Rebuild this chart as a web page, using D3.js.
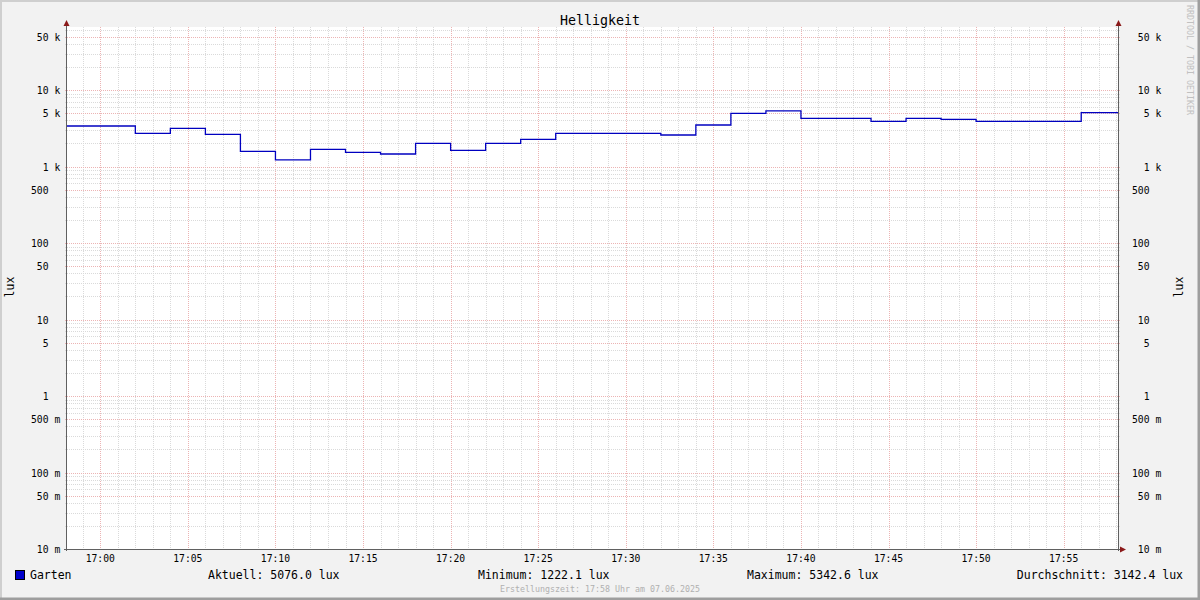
<!DOCTYPE html>
<html><head><meta charset="utf-8">
<script src="https://cdn.jsdelivr.net/npm/d3@7"></script>
<style>
html,body{margin:0;padding:0;background:#fff;}
svg{display:block;}
text{font-family:"DejaVu Sans Mono",monospace;}
</style></head>
<body><svg id="c" width="1200" height="600"></svg>
<script>
// ---- data ----
const times = ["16:58","17:00","17:02","17:04","17:06","17:08","17:10","17:12","17:14","17:16",
  "17:18","17:20","17:22","17:24","17:26","17:28","17:30","17:32","17:34","17:36",
  "17:38","17:40","17:42","17:44","17:46","17:48","17:50","17:52","17:54","17:56"];
const luxValues = [3383,3383,2716,3157,2636,1580,1222.1,1679,1534,1457,
  2010,1629,2010,2268,2716,2716,2716,2581,3487,4956,
  5342.6,4266,4266,3892,4266,4139,3892,3892,3892,5076];
const yTickValues = [0.01,0.05,0.1,0.5,1,5,10,50,100,500,1000,5000,10000,50000];
const yTickNums = ["10","50","100","500","1","5","10","50","100","500","1","5","10","50"];
const yTickUnits = ["m","m","m","m","","","","","","","k","k","k","k"];
const xTickLabels = ["17:00","17:05","17:10","17:15","17:20","17:25","17:30","17:35","17:40","17:45","17:50","17:55"];
const title = "Helligkeit";
const seriesName = "Garten";
const legendStats = [["Aktuell: 5076.0 lux",208,"start"],["Minimum: 1222.1 lux",478,"start"],
  ["Maximum: 5342.6 lux",747,"start"],["Durchschnitt: 3142.4 lux",1183,"end"]];

const svg = d3.select("#c");
const L=67,R=1118,T=27,B=549;
const day = (hm,s=0)=>{const [h,m]=hm.split(":").map(Number);return new Date(2025,5,7,h,m,s);};
const x = d3.scaleTime().domain([day("16:58",6), day("17:58",6)]).range([L,R]);
const y = d3.scaleLog().domain([0.01, Math.pow(10,4+63/76.5)]).range([B,T]);

// background + frame
svg.append("rect").attr("width",1200).attr("height",600).attr("fill","#f2f2f2");
svg.append("path").attr("d","M0,600V0H1200").attr("fill","none").attr("stroke","#cfcfcf").attr("stroke-width",4);
svg.append("path").attr("d","M0,599H1199V0").attr("fill","none").attr("stroke","#9e9e9e").attr("stroke-width",3);
svg.append("rect").attr("x",L).attr("y",T).attr("width",R-L).attr("height",B-T).attr("fill","#fff");

// grid
const g = svg.append("g");
const minorY=[];
for(let e=-2;e<=4;e++) for(let k=1;k<=9;k++){const v=k*Math.pow(10,e); if(v<=y.domain()[1] && k!==1 && k!==5) minorY.push(v);}
g.selectAll(".my").data(minorY).join("line").attr("x1",L-2).attr("x2",R+2)
  .attr("y1",d=>Math.round(y(d))+0.5).attr("y2",d=>Math.round(y(d))+0.5)
  .attr("stroke","#dadada").attr("stroke-dasharray","1,1");
const minutes = d3.timeMinute.every(1).range(x.domain()[0], x.domain()[1]).filter(d=>d.getMinutes()%5!==0);
g.selectAll(".mx").data(minutes).join("line").attr("y1",T).attr("y2",B)
  .attr("x1",d=>Math.round(x(d))+0.5).attr("x2",d=>Math.round(x(d))+0.5)
  .attr("stroke","#dadada").attr("stroke-dasharray","1,1");
g.selectAll(".My").data(yTickValues).join("line").attr("x1",L-2).attr("x2",R+2)
  .attr("y1",d=>Math.round(y(d))+0.5).attr("y2",d=>Math.round(y(d))+0.5)
  .attr("stroke","#ecb4b4").attr("stroke-dasharray","1,1");
const majX = xTickLabels.map(t=>day(t));
g.selectAll(".Mx").data(majX).join("line").attr("y1",T).attr("y2",B+2)
  .attr("x1",d=>Math.round(x(d))+0.5).attr("x2",d=>Math.round(x(d))+0.5)
  .attr("stroke","#ecb4b4").attr("stroke-dasharray","1,1");

// line
svg.append("clipPath").attr("id","cp").append("rect").attr("x",L).attr("y",T).attr("width",R-L).attr("height",B-T);
const pts = times.map((t,i)=>[day(t),luxValues[i]]);
pts.push([x.domain()[1], luxValues[luxValues.length-1]]);
svg.append("path").datum(pts).attr("clip-path","url(#cp)")
  .attr("d",d3.line().x(d=>x(d[0])).y(d=>y(d[1])).curve(d3.curveStepAfter))
  .attr("fill","none").attr("stroke","#0000c0").attr("stroke-width",1.3);

// axes
const ax = svg.append("g").attr("stroke","#606060").attr("stroke-width",1);
ax.append("line").attr("x1",L-0.5).attr("x2",L-0.5).attr("y1",24).attr("y2",B+2);
ax.append("line").attr("x1",R+0.5).attr("x2",R+0.5).attr("y1",24).attr("y2",B+2);
ax.append("line").attr("x1",L-3).attr("x2",R+4).attr("y1",B+0.5).attr("y2",B+0.5);
const ar="#8b1a1a";
svg.append("path").attr("d",`M${L-3.5},26L${L-0.5},20L${L+2.5},26Z`).attr("fill",ar);
svg.append("path").attr("d",`M${R-2.5},26L${R+0.5},20L${R+3.5},26Z`).attr("fill",ar);
svg.append("path").attr("d",`M${R+2},${B-2.5}L${R+8},${B+0.5}L${R+2},${B+3.5}Z`).attr("fill",ar);

// y labels
const yl = svg.append("g").attr("font-size","9.7px").attr("fill","#000");
yTickValues.forEach((v,i)=>{
  const yy=y(v)+4;
  yl.append("text").attr("x",48.5).attr("y",yy).attr("text-anchor","end").text(yTickNums[i]);
  if(yTickUnits[i]) yl.append("text").attr("x",54.5).attr("y",yy).text(yTickUnits[i]);
  yl.append("text").attr("x",1149.5).attr("y",yy).attr("text-anchor","end").text(yTickNums[i]);
  if(yTickUnits[i]) yl.append("text").attr("x",1155.5).attr("y",yy).text(yTickUnits[i]);
});
// x labels
svg.append("g").attr("font-size","9.7px").selectAll("text").data(majX).join("text")
  .attr("x",d=>x(d)).attr("y",562).attr("text-anchor","middle").text((d,i)=>xTickLabels[i]);

// title & axis titles
svg.append("text").attr("x",600).attr("y",24.5).attr("text-anchor","middle").attr("font-size","13.3px").text(title);
svg.append("text").attr("transform","translate(14,287) rotate(-90)").attr("text-anchor","middle").attr("font-size","11.5px").text("lux");
svg.append("text").attr("transform","translate(1183,287) rotate(-90)").attr("text-anchor","middle").attr("font-size","11.5px").text("lux");
svg.append("text").attr("transform","translate(1187,5) rotate(90)").attr("font-size","8.3px").attr("fill","#c0c0c0").text("RRDTOOL / TOBI OETIKER");

// legend
svg.append("rect").attr("x",15.5).attr("y",570.5).attr("width",9).attr("height",9).attr("fill","#0000cc").attr("stroke","#000");
svg.append("text").attr("x",30).attr("y",579).attr("font-size","11.5px").text(seriesName);
legendStats.forEach(s=>svg.append("text").attr("x",s[1]).attr("y",579).attr("text-anchor",s[2]).attr("font-size","11.5px").text(s[0]));
svg.append("text").attr("x",600).attr("y",592).attr("text-anchor","middle").attr("font-size","8.3px").attr("fill","#b0b0b0").text("Erstellungszeit: 17:58 Uhr am 07.06.2025");
</script></body></html>
